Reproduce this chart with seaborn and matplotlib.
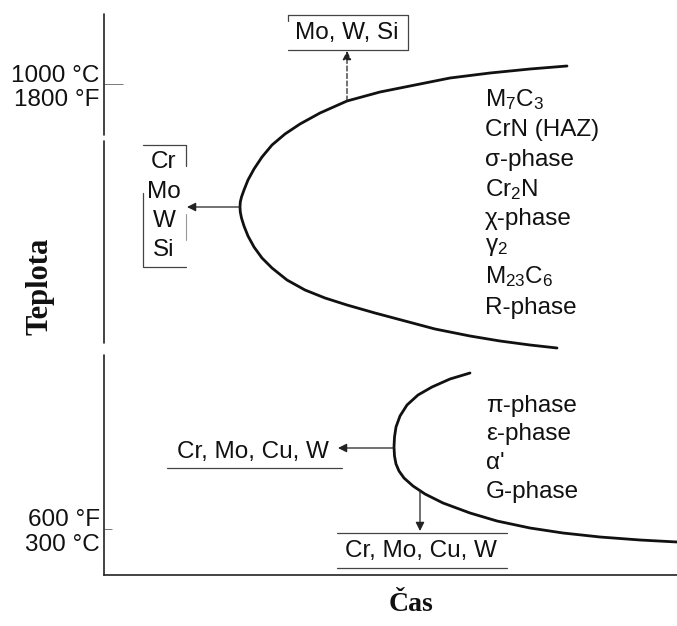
import matplotlib
matplotlib.use("Agg")
import matplotlib.pyplot as plt
import seaborn as sns

# ----------------------------
# DATA (pixel-like units)
# ----------------------------
# upper C-curve (high temperature precipitation)
upper_time = [567, 530, 490, 450, 410, 380, 347, 320, 300, 285, 272, 262, 254, 248, 244, 241.5,
              240.3, 240, 240.3, 241.5, 244, 248, 254, 262, 272, 287, 305, 325, 347, 375,
              405, 435, 470, 500, 530, 557]
upper_temp = [66, 69, 73, 78, 86, 92, 101, 113, 124, 134, 145, 157, 169, 180, 190, 197,
              202, 207, 212, 218, 226, 236, 247, 258, 268, 280, 290, 298, 305, 313,
              321, 329, 336, 341, 345, 348]

# lower C-curve (475 °C embrittlement region)
lower_time = [470, 450, 432, 418, 407, 400, 396, 394.5, 394, 394.5, 396, 399, 404, 413, 425, 443,
              470, 497, 530, 563, 600, 640, 677]
lower_temp = [373, 379, 387, 395, 405, 416, 427, 437, 447, 456, 464, 471, 478, 486, 494, 503,
              513, 521, 528, 533, 537, 540, 542]

upper_phases = ["$\\mathregular{M_7C_3}$", "CrN (HAZ)", "σ-phase", "$\\mathregular{Cr_2N}$",
                "χ-phase", "γ$\\mathregular{_2}$", "$\\mathregular{M_{23}C_6}$", "R-phase"]
upper_phase_y = [100, 130, 160, 190, 219, 247, 277, 308]

lower_phases = ["π-phase", "ε-phase", "α'", "G-phase"]
lower_phase_y = [406, 434, 463, 492]

left_elements = ["Cr", "Mo", "W", "Si"]
left_elements_y = [162, 192, 221, 250]

temp_ticks = [84, 529]
temp_labels = ["1000 °C\n1800 °F", "600 °F\n300 °C"]

# ----------------------------
# STYLE
# ----------------------------
sns.set_theme(style="white")
plt.rcParams["font.family"] = ["Liberation Sans", "DejaVu Sans"]
plt.rcParams["mathtext.fontset"] = "custom"
plt.rcParams["mathtext.rm"] = "Liberation Sans"

INK = "#111111"
THIN = "#444444"
FS = 17.5

fig = plt.figure(figsize=(6.77, 6.26), dpi=100)
ax = fig.add_axes([104 / 677, (626 - 575) / 626, 573 / 677, (575 - 14) / 626])
ax.set_xlim(104, 677)
ax.set_ylim(575, 14)

# curves
sns.lineplot(x=upper_time, y=upper_temp, sort=False, estimator=None, ax=ax,
             color=INK, lw=2.0, solid_joinstyle="round")
sns.lineplot(x=lower_time, y=lower_temp, sort=False, estimator=None, ax=ax,
             color=INK, lw=2.0, solid_joinstyle="round")

# axes: broken left axis as in the scan
for s in ["top", "right", "left"]:
    ax.spines[s].set_visible(False)
ax.spines["bottom"].set_color("#222222")
ax.spines["bottom"].set_linewidth(1.2)
for y0, y1 in [(14, 135), (141, 343), (355, 575)]:
    ax.plot([104, 104], [y0, y1], color="#222222", lw=1.2, clip_on=False)

# ticks
ax.set_xticks([])
ax.set_yticks([temp_ticks[0]])
ax.set_yticklabels([temp_labels[0]])
ax.set_yticks([temp_ticks[1]], minor=True)
ax.set_yticklabels([temp_labels[1]], minor=True)
ax.tick_params(axis="y", which="major", direction="in", length=14, width=0.7,
               color="#777777", pad=3, labelsize=FS, left=True)
ax.tick_params(axis="y", which="minor", direction="in", length=6, width=0.7,
               color="#777777", pad=3, labelsize=FS, left=True)
for lab in ax.get_yticklabels(which="both"):
    lab.set_linespacing(1.12)
    lab.set_color(INK)

# axis titles
ax.set_ylabel("Teplota", fontfamily="Liberation Serif", fontweight="bold",
              fontsize=22, color=INK)
ax.yaxis.set_label_coords(-0.086, 0.515)
ax.set_xlabel("Čas", fontfamily="Liberation Serif", fontweight="bold",
              fontsize=20, color=INK)
ax.xaxis.set_label_coords(0.535, -0.03)

# phase lists
for lab, y in zip(upper_phases, upper_phase_y):
    ax.text(485, y, lab, fontsize=FS, color=INK, va="center", ha="left")
for lab, y in zip(lower_phases, lower_phase_y):
    ax.text(486, y, lab, fontsize=FS, color=INK, va="center", ha="left")

# elements that shift the curves
for lab, y in zip(left_elements, left_elements_y):
    ax.text(164, y, lab, fontsize=FS, color=INK, va="center", ha="center")
ax.text(347, 33, "Mo, W, Si", fontsize=FS, color=INK, va="center", ha="center")
ax.text(253, 452, "Cr, Mo, Cu, W", fontsize=FS, color=INK, va="center", ha="center")
ax.text(421, 551, "Cr, Mo, Cu, W", fontsize=FS, color=INK, va="center", ha="center")

# frames / brackets around the element lists
box_kw = dict(color=THIN, lw=0.9, clip_on=False)
ax.plot([288, 408, 408, 288], [15, 15, 50, 50], **box_kw)
ax.plot([288, 288], [15, 21], **box_kw)
ax.plot([143, 186, 186], [145, 145, 166], **box_kw)
ax.plot([186, 186], [214, 240], color="#999999", lw=0.8)
ax.plot([143, 143, 186], [193, 267, 267], **box_kw)
ax.plot([167, 342], [468, 468], **box_kw)
ax.plot([337, 507], [533, 533], **box_kw)
ax.plot([337, 507], [568, 568], **box_kw)

# arrows
arr = dict(arrowstyle="-|>", color="#222222", lw=0.9, mutation_scale=13,
           shrinkA=0, shrinkB=0)
ax.annotate("", xy=(347, 51), xytext=(347, 101),
            arrowprops=dict(arr, linestyle=(0, (4, 2))))
ax.annotate("", xy=(187, 207), xytext=(240, 207), arrowprops=arr)
ax.annotate("", xy=(338, 448), xytext=(394, 448), arrowprops=arr)
ax.annotate("", xy=(420, 531), xytext=(420, 490), arrowprops=arr)

fig.savefig("out.png", dpi=100)
